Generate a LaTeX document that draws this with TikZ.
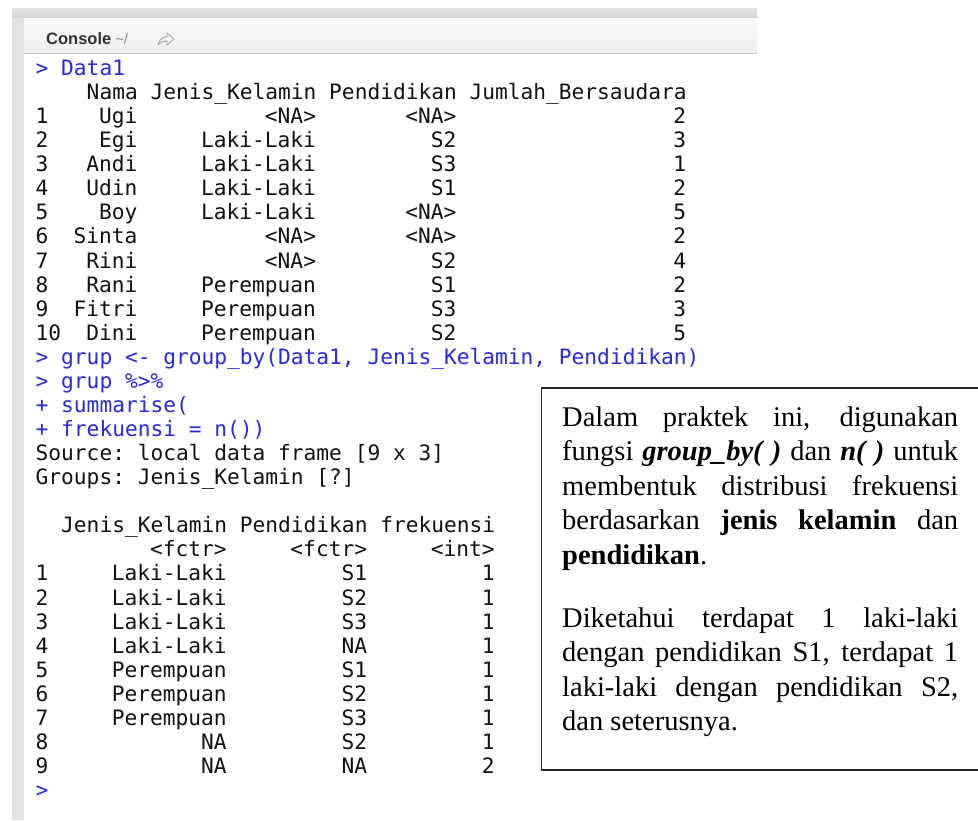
\documentclass[tikz,border=0pt]{standalone}
\usepackage{fontspec}
\setmainfont{Liberation Serif}
\setsansfont{Liberation Sans}
\setmonofont{DejaVu Sans Mono}
\newfontfamily\consolemono{DejaVu Sans Mono}

\definecolor{rin}{RGB}{40,40,225}
\definecolor{rout}{RGB}{18,18,18}
\definecolor{barcol}{RGB}{226,226,230}
\definecolor{bandtop}{RGB}{228,228,228}
\definecolor{bandbot}{RGB}{212,212,212}
\definecolor{headtop}{RGB}{250,250,250}
\definecolor{headbot}{RGB}{238,238,238}
\definecolor{headline}{RGB}{200,200,200}

\tikzset{
  con/.style={inner sep=0pt, font=\consolemono\fontsize{21.2}{24}\selectfont\frenchspacing},
  note/.style={inner sep=0pt, text width=396pt, align=justify,
    font=\rmfamily\fontsize{28.5}{34.5}\selectfont}
}

% console text: [colour]{line}{column}{text}; columns are character cells
\newcommand\putR[4][rout]{\node[con,anchor=base east,text=#1] (c-#2-#3)
  at ({35.5+#3*12.76},{75.5+#2*24.07}) {#4};}
\newcommand\putL[4][rout]{\node[con,anchor=base west,text=#1] (c-#2-#3)
  at ({35.5+#3*12.76},{75.5+#2*24.07}) {#4};}
% rows of the data frame and of the grouped summary
\newcommand\toprow[6]{\putL{#1}{0}{#2}\putR{#1}{8}{#3}\putR{#1}{22}{#4}%
  \putR{#1}{33}{#5}\putR{#1}{51}{#6}}
\newcommand\botrow[5]{\putL{#1}{0}{#2}\putR{#1}{15}{#3}\putR{#1}{26}{#4}%
  \putR{#1}{36}{#5}}
% empty call parentheses as printed in the note
\newcommand\emptyargs{\mbox{(\hspace{0.32em})}}

\begin{document}
\begin{tikzpicture}[x=1pt,y=-1pt]
\useasboundingbox (0,0) rectangle (978,820);
\fill[white] (0,0) rectangle (978,820);

% console pane frame
\shade[top color=bandtop, bottom color=bandbot] (12,8) rectangle (757,18);
\shade[top color=headtop, bottom color=headbot] (24,18) rectangle (757,53);
\draw[headline] (24,53.5) -- (757,53.5);
\fill[barcol] (12,18) rectangle (24,820);

\node[anchor=base west, inner sep=0pt, text=black!80,
  font=\sffamily\bfseries\fontsize{16.5}{18}\selectfont] (title) at (46,44) {Console};
\node[anchor=base west, inner sep=0pt, text=black!45,
  font=\sffamily\fontsize{15}{18}\selectfont] (path) at (115,44) {\textasciitilde/};
\draw[black!35, line width=0.9pt, line join=round]
  (158,45) .. controls (159,39) and (163,37) .. (167,37) -- (167,33) -- (174,39)
  -- (167,45) -- (167,41) .. controls (163,41) and (160,42) .. (158,45) -- cycle;

% first command and data frame
\putL[rin]{0}{0}{> Data1}
\putL{1}{4}{Nama Jenis\_Kelamin Pendidikan Jumlah\_Bersaudara}
\toprow{2}{1}{Ugi}{<NA>}{<NA>}{2}
\toprow{3}{2}{Egi}{Laki-Laki}{S2}{3}
\toprow{4}{3}{Andi}{Laki-Laki}{S3}{1}
\toprow{5}{4}{Udin}{Laki-Laki}{S1}{2}
\toprow{6}{5}{Boy}{Laki-Laki}{<NA>}{5}
\toprow{7}{6}{Sinta}{<NA>}{<NA>}{2}
\toprow{8}{7}{Rini}{<NA>}{S2}{4}
\toprow{9}{8}{Rani}{Perempuan}{S1}{2}
\toprow{10}{9}{Fitri}{Perempuan}{S3}{3}
\toprow{11}{10}{Dini}{Perempuan}{S2}{5}

% grouping commands
\putL[rin]{12}{0}{> grup <- group\_by(Data1, Jenis\_Kelamin, Pendidikan)}
\putL[rin]{13}{0}{> grup \%>\%}
\putL[rin]{14}{0}{+ summarise(}
\putL[rin]{15}{0}{+ frekuensi = n())}
\putL{16}{0}{Source: local data frame [9 x 3]}
\putL{17}{0}{Groups: Jenis\_Kelamin [?]}

% summary table
\putL{19}{2}{Jenis\_Kelamin Pendidikan frekuensi}
\putR{20}{15}{<fctr>}\putR{20}{26}{<fctr>}\putR{20}{36}{<int>}
\botrow{21}{1}{Laki-Laki}{S1}{1}
\botrow{22}{2}{Laki-Laki}{S2}{1}
\botrow{23}{3}{Laki-Laki}{S3}{1}
\botrow{24}{4}{Laki-Laki}{NA}{1}
\botrow{25}{5}{Perempuan}{S1}{1}
\botrow{26}{6}{Perempuan}{S2}{1}
\botrow{27}{7}{Perempuan}{S3}{1}
\botrow{28}{8}{NA}{S2}{1}
\botrow{29}{9}{NA}{NA}{2}
\putL[rin]{30}{0}{>}

% explanation box
\draw[black!85, line width=1.5pt] (541.5,388) rectangle (1000,770);
\node[note, anchor=north west] (explain) at (562,406.5) {%
  \tolerance=10000 \hyphenpenalty=10000 \exhyphenpenalty=10000
  Dalam praktek ini, digunakan\linebreak
  fungsi \textbf{\textit{group\_by\emptyargs}} dan \textbf{\textit{n\emptyargs}} untuk\linebreak
  membentuk distribusi frekuensi\linebreak
  berdasarkan \textbf{jenis kelamin} dan\linebreak
  \textbf{pendidikan}.\par
  \vspace{28.5pt}
  Diketahui terdapat 1 laki-laki\linebreak
  dengan pendidikan S1, terdapat 1\linebreak
  laki-laki dengan pendidikan S2,\linebreak
  dan seterusnya.};
\end{tikzpicture}
\end{document}
